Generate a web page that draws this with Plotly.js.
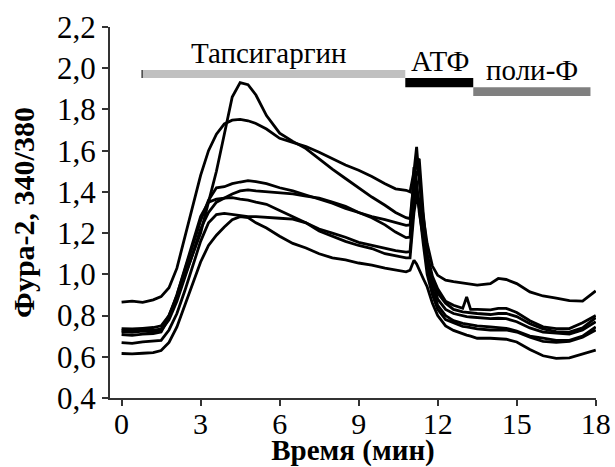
<!DOCTYPE html>
<html>
<head>
<meta charset="utf-8">
<script src="https://cdn.plot.ly/plotly-3.0.1.min.js"></script>
<style>html,body{margin:0;padding:0;background:#fff;}#chart{width:615px;height:467px;}</style>
</head>
<body>
<div id="chart"></div>
<script>
// time points (min)
const timeMin = [0,0.4,0.8,1.2,1.5,1.8,2.1,2.4,2.7,3.0,3.3,3.6,3.9,4.2,4.5,4.8,5.1,5.5,6,6.5,7,7.5,8,8.5,9,9.5,10,10.4,10.8,10.95,11.1,11.2,11.3,11.45,11.6,11.8,12.0,12.3,12.6,12.95,13.1,13.25,13.5,14,14.3,14.6,15,15.5,16,16.5,17,17.5,18];

// Fura-2 340/380 ratio, one array per cell
const cellA = [0.737,0.735,0.738,0.742,0.75,0.80,0.89,0.99,1.10,1.20,1.35,1.50,1.68,1.86,1.93,1.92,1.87,1.77,1.685,1.645,1.61,1.56,1.51,1.465,1.42,1.375,1.335,1.30,1.275,1.27,1.45,1.55,1.56,1.30,1.10,0.99,0.93,0.87,0.85,0.835,0.89,0.83,0.83,0.828,0.835,0.835,0.815,0.775,0.745,0.737,0.737,0.765,0.80];
const cellB = [0.865,0.870,0.864,0.876,0.892,0.935,1.03,1.18,1.34,1.48,1.60,1.68,1.73,1.748,1.752,1.745,1.732,1.705,1.66,1.64,1.62,1.592,1.56,1.53,1.505,1.475,1.44,1.415,1.408,1.40,1.50,1.618,1.45,1.28,1.15,1.04,0.995,0.972,0.965,0.958,0.955,0.95,0.948,0.955,0.98,0.975,0.955,0.915,0.895,0.885,0.872,0.87,0.92];
const cellC = [0.728,0.725,0.73,0.728,0.735,0.80,0.90,1.02,1.14,1.26,1.36,1.42,1.425,1.44,1.448,1.455,1.45,1.44,1.42,1.405,1.385,1.365,1.345,1.32,1.30,1.275,1.24,1.205,1.178,1.18,1.52,1.45,1.30,1.18,1.05,0.96,0.91,0.86,0.83,0.818,0.815,0.812,0.81,0.805,0.81,0.81,0.795,0.76,0.735,0.722,0.72,0.74,0.79];
const cellD = [0.722,0.718,0.724,0.72,0.728,0.78,0.87,0.98,1.10,1.22,1.30,1.35,1.37,1.39,1.405,1.41,1.405,1.40,1.395,1.39,1.38,1.37,1.35,1.33,1.30,1.28,1.265,1.25,1.238,1.24,1.40,1.50,1.48,1.25,1.08,0.97,0.88,0.83,0.81,0.797,0.795,0.793,0.79,0.785,0.787,0.785,0.77,0.74,0.72,0.715,0.71,0.73,0.77];
const cellE = [0.708,0.704,0.71,0.712,0.72,0.79,0.90,1.03,1.16,1.28,1.35,1.365,1.37,1.372,1.365,1.36,1.35,1.34,1.31,1.28,1.25,1.22,1.20,1.18,1.155,1.14,1.125,1.115,1.108,1.11,1.35,1.42,1.35,1.18,1.03,0.93,0.85,0.80,0.775,0.762,0.758,0.755,0.75,0.745,0.74,0.738,0.725,0.70,0.69,0.68,0.68,0.70,0.745];
const cellF = [0.669,0.665,0.672,0.675,0.68,0.73,0.81,0.92,1.04,1.16,1.25,1.29,1.296,1.29,1.285,1.28,1.28,1.275,1.272,1.268,1.25,1.21,1.185,1.16,1.14,1.125,1.10,1.09,1.08,1.08,1.30,1.38,1.32,1.15,1.00,0.90,0.83,0.78,0.765,0.748,0.745,0.742,0.735,0.73,0.73,0.73,0.72,0.695,0.675,0.67,0.675,0.695,0.73];
const cellG = [0.616,0.614,0.617,0.62,0.63,0.67,0.745,0.85,0.95,1.06,1.14,1.19,1.23,1.265,1.28,1.275,1.25,1.225,1.185,1.15,1.128,1.10,1.08,1.07,1.055,1.045,1.03,1.02,1.012,1.02,1.068,1.05,1.02,0.98,0.94,0.86,0.80,0.75,0.728,0.71,0.705,0.70,0.69,0.69,0.688,0.685,0.672,0.635,0.605,0.592,0.595,0.615,0.632];

// treatment periods
const treatNames = ["Тапсигаргин", "АТФ", "поли-Ф"];
const treatStart = [0.78, 10.77, 13.35];
const treatEnd = [10.77, 13.35, 17.8];
const treatTop = [1.991, 1.952, 1.908];
const treatBottom = [1.952, 1.908, 1.865];
const treatLabelX = [5.58, 12.1, 15.57];

const xTickVals = [0, 3, 6, 9, 12, 15, 18];
const yTickVals = [0.4, 0.6, 0.8, 1.0, 1.2, 1.4, 1.6, 1.8, 2.0, 2.2];
const yTickText = ["0,4", "0,6", "0,8", "1,0", "1,2", "1,4", "1,6", "1,8", "2,0", "2,2"];

const SERIF = 'Liberation Serif';

const cells = [cellA, cellB, cellC, cellD, cellE, cellF, cellG];
const traces = cells.map(c => ({
  x: timeMin, y: c, type: 'scatter', mode: 'lines',
  line: {color: '#000', width: 2.8}, hoverinfo: 'skip', showlegend: false
}));

const barColors = ['#c0c0c0', '#000000', '#7f7f7f'];
const shapes = treatNames.map((n, i) => ({
  type: 'rect', xref: 'x', yref: 'y',
  x0: treatStart[i], x1: treatEnd[i], y0: treatBottom[i], y1: treatTop[i],
  fillcolor: barColors[i], line: {width: 0}, layer: 'above'
}));
shapes.push({type: 'line', xref: 'x', yref: 'y', x0: treatStart[0], x1: treatStart[0],
  y0: treatBottom[0], y1: treatTop[0], line: {color: '#444', width: 1.5}});

const annotations = treatNames.map((n, i) => ({
  text: n, x: treatLabelX[i], y: treatTop[i], xref: 'x', yref: 'y',
  xanchor: 'center', yanchor: 'bottom', showarrow: false, borderpad: 0,
  font: {family: SERIF, size: 29, color: '#000'}
}));

const layout = {
  width: 615, height: 467,
  font: {family: SERIF, color: '#000'},
  margin: {l: 110, r: 19, t: 27, b: 69},
  paper_bgcolor: '#fff', plot_bgcolor: '#fff',
  showlegend: false,
  xaxis: {
    range: [-0.44, 18.01], tickvals: xTickVals, ticktext: xTickVals.map(String),
    showgrid: false, zeroline: false, showline: true, linecolor: '#333', linewidth: 2,
    ticks: 'outside', ticklen: 6, tickwidth: 2, tickcolor: '#333',
    ticklabelstandoff: -8,
    tickfont: {family: SERIF, size: 30, color: '#000'},
    title: {text: 'Время (мин)', font: {family: SERIF, size: 29, color: '#000', weight: 'bold'}, standoff: 8}
  },
  yaxis: {
    range: [0.4, 2.2], tickvals: yTickVals, ticktext: yTickText,
    showgrid: false, zeroline: false, showline: true, linecolor: '#333', linewidth: 2,
    ticks: 'outside', ticklen: 6, tickwidth: 2, tickcolor: '#333',
    tickfont: {family: SERIF, size: 31, color: '#000'},
    title: {text: 'Фура-2, 340/380', font: {family: SERIF, size: 30, color: '#000', weight: 'bold'}, standoff: 14}
  },
  shapes: shapes,
  annotations: annotations
};

Plotly.newPlot('chart', traces, layout, {displayModeBar: false, staticPlot: true});
</script>
</body>
</html>
